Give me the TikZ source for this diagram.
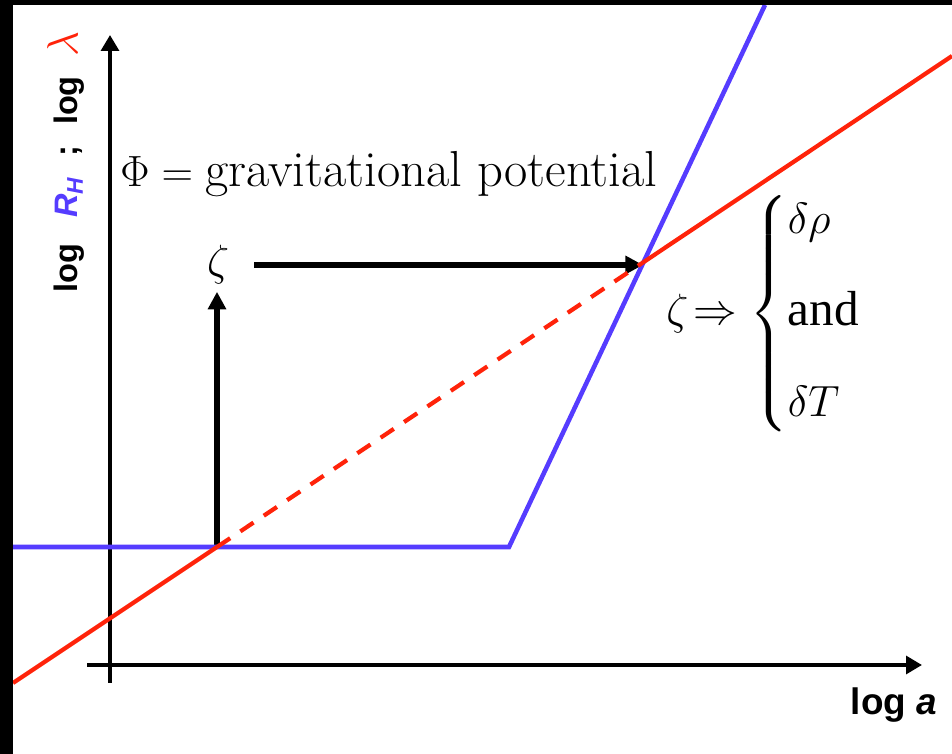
\documentclass[tikz,border=0pt]{standalone}
\usepackage{amsmath}
\usepackage{fontspec}
\newfontfamily\labelfont{Liberation Sans}
\newfontfamily\timesfont{Liberation Serif}
\usetikzlibrary{arrows.meta,positioning}
\definecolor{rhblue}{RGB}{85,60,255}
\definecolor{lamred}{RGB}{255,35,10}

\begin{document}
\begin{tikzpicture}[
    axis/.style={line width=2.2pt,-{Triangle[length=9pt,width=10pt]}},
    pointer/.style={line width=3pt,-{Triangle[length=10pt,width=10pt]}},
    hubble/.style={draw=rhblue,line width=2.6pt},
    wave/.style={draw=lamred,line width=2.4pt}]
\useasboundingbox (0,0) rectangle (19.04,15.08);
        % axes
\coordinate (ybot) at (2.2,1.42);
\coordinate (ytop) at (2.2,14.38);
\coordinate (xleft) at (1.74,1.78);
\coordinate (xright) at (18.44,1.78);
\draw[axis] (ybot) -- (ytop);
\draw[axis] (xleft) -- (xright);
\node[rotate=90] (ylab) at (1.32,11.84) {\labelfont\bfseries\fontsize{18.5}{22}\selectfont log\hspace{0.8em}\textcolor{rhblue}{\textit{R}\textsubscript{\textit{H}}}\hspace{0.6em};\hspace{0.65em}log\hspace{0.6em}\textcolor{lamred}{\fontsize{24}{26}\selectfont$\lambda$}};
\node (xlab) at (17.88,0.98) {\labelfont\bfseries\fontsize{21}{24}\selectfont log \textit{a}};

        % curve points
\coordinate (bstart) at (0.26,4.14);
\coordinate (bknee) at (10.18,4.14);
\coordinate (btop) at (15.3,14.98);
\coordinate (rstart) at (0.26,1.42);
\coordinate (A) at (4.34,4.14);
\coordinate (B) at (12.86,9.83);
\coordinate (rend) at (19.04,13.96);

        % labels and arrows
\node[anchor=base west,inner sep=0] (phi) at (2.4,11.34) {\fontsize{28.8}{33}\selectfont$\Phi=\text{gravitational potential}$};
\node[inner sep=4pt] (zeta) at (4.36,9.78) {\fontsize{30}{34}\selectfont$\zeta$};
\node[anchor=west,inner sep=0] (split) at (13.32,8.8) {\fontsize{28}{32}\selectfont$\zeta\!\Rightarrow\left\{\begin{array}{@{}l@{}}\delta\rho\\[20pt]\text{\timesfont and}\\[20pt]\delta T\end{array}\right.$};
\draw[pointer] (A) -- (A |- zeta.south);
\draw[pointer] ([xshift=0.36cm]zeta.east) -- (zeta.east -| B);

        % Hubble radius and wavelength
\draw[hubble] (bstart) -- (bknee) -- (btop);
\draw[wave] (rstart) -- (A);
\draw[wave,dash pattern=on 9pt off 7pt] (A) -- (B);
\draw[wave] (B) -- (rend);

        % frame edges
\fill[black] (0,0) rectangle (0.26,15.08);
\fill[black] (0,14.98) rectangle (19.04,15.08);
\end{tikzpicture}
\end{document}
